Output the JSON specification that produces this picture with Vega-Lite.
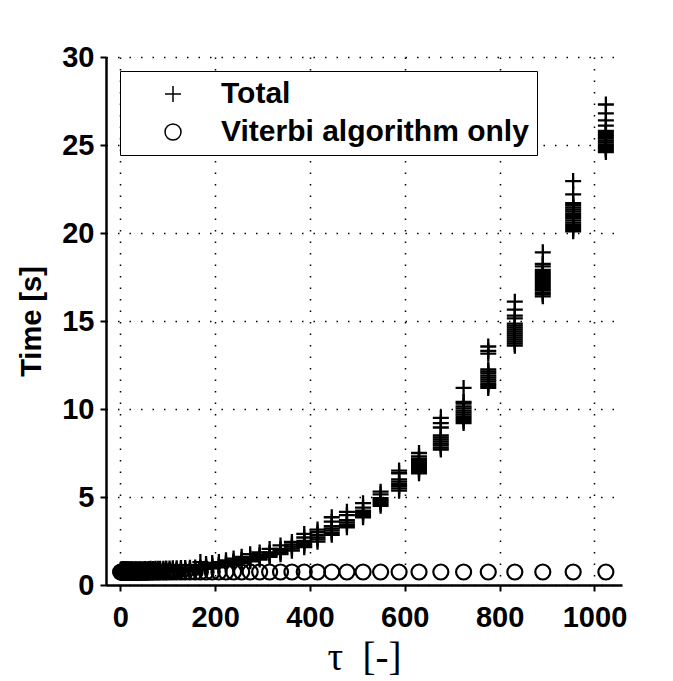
{
  "$schema": "https://vega.github.io/schema/vega-lite/v6.json",
  "width": 516,
  "height": 528,
  "autosize": {"type": "none"},
  "padding": {"left": 106, "top": 57, "right": 51, "bottom": 96},
  "background": "white",
  "config": {
    "font": "Liberation Sans",
    "view": {"stroke": null},
    "axis": {
      "domainColor": "black", "domainWidth": 2.5,
      "tickColor": "black", "tickWidth": 2, "tickSize": 6,
      "labelColor": "black", "labelFont": "Liberation Sans", "labelFontWeight": "bold", "labelFontSize": 29,
      "titleColor": "black",
      "grid": true, "gridColor": "black", "gridOpacity": 1, "gridDash": [1.5, 10], "gridWidth": 1.5
    }
  },
  "datasets": {
    "total": [
      {"tau":1,"time":0.68},{"tau":1,"time":0.74},{"tau":1,"time":0.8},{"tau":1,"time":0.86},
      {"tau":2,"time":0.69},{"tau":2,"time":0.75},{"tau":2,"time":0.81},{"tau":2,"time":0.88},
      {"tau":3,"time":0.68},{"tau":3,"time":0.74},{"tau":3,"time":0.8},{"tau":3,"time":0.87},
      {"tau":4,"time":0.69},{"tau":4,"time":0.76},{"tau":4,"time":0.82},{"tau":4,"time":0.88},
      {"tau":5,"time":0.68},{"tau":5,"time":0.75},{"tau":5,"time":0.81},{"tau":5,"time":0.87},
      {"tau":6,"time":0.68},{"tau":6,"time":0.74},{"tau":6,"time":0.81},{"tau":6,"time":0.89},
      {"tau":7,"time":0.69},{"tau":7,"time":0.76},{"tau":7,"time":0.82},{"tau":7,"time":0.88},
      {"tau":8,"time":0.68},{"tau":8,"time":0.75},{"tau":8,"time":0.81},{"tau":8,"time":0.87},
      {"tau":9,"time":0.68},{"tau":9,"time":0.74},{"tau":9,"time":0.8},{"tau":9,"time":0.88},
      {"tau":10,"time":0.69},{"tau":10,"time":0.76},{"tau":10,"time":0.82},{"tau":10,"time":0.89},
      {"tau":11,"time":0.68},{"tau":11,"time":0.75},{"tau":11,"time":0.81},{"tau":11,"time":0.88},
      {"tau":12,"time":0.68},{"tau":12,"time":0.74},{"tau":12,"time":0.81},{"tau":12,"time":0.87},
      {"tau":13,"time":0.69},{"tau":13,"time":0.76},{"tau":13,"time":0.82},{"tau":13,"time":0.88},
      {"tau":14,"time":0.68},{"tau":14,"time":0.75},{"tau":14,"time":0.81},{"tau":14,"time":0.89},
      {"tau":15,"time":0.68},{"tau":15,"time":0.74},{"tau":15,"time":0.8},{"tau":15,"time":0.87},
      {"tau":16,"time":0.69},{"tau":16,"time":0.76},{"tau":16,"time":0.82},{"tau":16,"time":0.88},
      {"tau":17,"time":0.68},{"tau":17,"time":0.75},{"tau":17,"time":0.81},{"tau":17,"time":0.88},
      {"tau":18,"time":0.68},{"tau":18,"time":0.74},{"tau":18,"time":0.81},{"tau":18,"time":0.89},
      {"tau":20,"time":0.69},{"tau":20,"time":0.76},{"tau":20,"time":0.82},{"tau":20,"time":0.88},
      {"tau":21,"time":0.68},{"tau":21,"time":0.75},{"tau":21,"time":0.81},{"tau":21,"time":0.87},
      {"tau":23,"time":0.68},{"tau":23,"time":0.74},{"tau":23,"time":0.8},{"tau":23,"time":0.88},
      {"tau":24,"time":0.69},{"tau":24,"time":0.76},{"tau":24,"time":0.82},{"tau":24,"time":0.89},
      {"tau":26,"time":0.68},{"tau":26,"time":0.75},{"tau":26,"time":0.81},{"tau":26,"time":0.88},
      {"tau":28,"time":0.68},{"tau":28,"time":0.74},{"tau":28,"time":0.81},{"tau":28,"time":0.87},
      {"tau":30,"time":0.69},{"tau":30,"time":0.76},{"tau":30,"time":0.82},{"tau":30,"time":0.89},
      {"tau":32,"time":0.68},{"tau":32,"time":0.75},{"tau":32,"time":0.81},{"tau":32,"time":0.88},
      {"tau":34,"time":0.68},{"tau":34,"time":0.75},{"tau":34,"time":0.82},{"tau":34,"time":0.89},
      {"tau":37,"time":0.69},{"tau":37,"time":0.76},{"tau":37,"time":0.82},{"tau":37,"time":0.88},
      {"tau":39,"time":0.68},{"tau":39,"time":0.75},{"tau":39,"time":0.82},{"tau":39,"time":0.89},
      {"tau":42,"time":0.69},{"tau":42,"time":0.76},{"tau":42,"time":0.83},{"tau":42,"time":0.9},
      {"tau":45,"time":0.69},{"tau":45,"time":0.76},{"tau":45,"time":0.82},{"tau":45,"time":0.89},
      {"tau":49,"time":0.7},{"tau":49,"time":0.77},{"tau":49,"time":0.83},{"tau":49,"time":0.9},
      {"tau":52,"time":0.7},{"tau":52,"time":0.77},{"tau":52,"time":0.84},{"tau":52,"time":0.91},
      {"tau":56,"time":0.7},{"tau":56,"time":0.77},{"tau":56,"time":0.84},{"tau":56,"time":0.9},
      {"tau":60,"time":0.71},{"tau":60,"time":0.78},{"tau":60,"time":0.84},{"tau":60,"time":0.91},
      {"tau":64,"time":0.71},{"tau":64,"time":0.78},{"tau":64,"time":0.85},{"tau":64,"time":0.92},
      {"tau":69,"time":0.71},{"tau":69,"time":0.78},{"tau":69,"time":0.85},{"tau":69,"time":0.91},
      {"tau":74,"time":0.72},{"tau":74,"time":0.79},{"tau":74,"time":0.85},{"tau":74,"time":0.92},
      {"tau":79,"time":0.72},{"tau":79,"time":0.79},{"tau":79,"time":0.86},{"tau":79,"time":0.93},
      {"tau":84,"time":0.72},{"tau":84,"time":0.79},{"tau":84,"time":0.86},{"tau":84,"time":0.92},
      {"tau":91,"time":0.73},{"tau":91,"time":0.8},{"tau":91,"time":0.86},{"tau":91,"time":0.93},
      {"tau":97,"time":0.73},{"tau":97,"time":0.8},{"tau":97,"time":0.87},{"tau":97,"time":0.94},
      {"tau":104,"time":0.74},{"tau":104,"time":0.81},{"tau":104,"time":0.87},{"tau":104,"time":0.94},
      {"tau":111,"time":0.74},{"tau":111,"time":0.81},{"tau":111,"time":0.88},{"tau":111,"time":0.95},
      {"tau":119,"time":0.75},{"tau":119,"time":0.82},{"tau":119,"time":0.88},{"tau":119,"time":0.95},
      {"tau":128,"time":0.76},{"tau":128,"time":0.83},{"tau":128,"time":0.89},{"tau":128,"time":0.96},
      {"tau":137,"time":0.77},{"tau":137,"time":0.84},{"tau":137,"time":0.9},{"tau":137,"time":0.97},
      {"tau":147,"time":0.79},{"tau":147,"time":0.85},{"tau":147,"time":0.91},{"tau":147,"time":0.98},
      {"tau":158,"time":0.81},{"tau":158,"time":0.87},{"tau":158,"time":0.93},{"tau":158,"time":0.99},
      {"tau":169,"time":0.88},{"tau":169,"time":0.92},{"tau":169,"time":0.96},{"tau":169,"time":1.0},{"tau":169,"time":1.3},
      {"tau":181,"time":0.92},{"tau":181,"time":0.96},{"tau":181,"time":1.01},{"tau":181,"time":1.05},{"tau":181,"time":1.2},
      {"tau":194,"time":0.95},{"tau":194,"time":1.0},{"tau":194,"time":1.05},{"tau":194,"time":1.1},{"tau":194,"time":1.25},
      {"tau":208,"time":1.0},{"tau":208,"time":1.05},{"tau":208,"time":1.1},{"tau":208,"time":1.15},{"tau":208,"time":1.3},
      {"tau":223,"time":1.08},{"tau":223,"time":1.14},{"tau":223,"time":1.19},{"tau":223,"time":1.25},{"tau":223,"time":1.4},
      {"tau":239,"time":1.15},{"tau":239,"time":1.22},{"tau":239,"time":1.28},{"tau":239,"time":1.35},{"tau":239,"time":1.5},
      {"tau":256,"time":1.25},{"tau":256,"time":1.32},{"tau":256,"time":1.38},{"tau":256,"time":1.45},{"tau":256,"time":1.6},
      {"tau":274,"time":1.35},{"tau":274,"time":1.42},{"tau":274,"time":1.48},{"tau":274,"time":1.55},{"tau":274,"time":1.75},
      {"tau":294,"time":1.45},{"tau":294,"time":1.53},{"tau":294,"time":1.62},{"tau":294,"time":1.7},{"tau":294,"time":1.85},
      {"tau":315,"time":1.6},{"tau":315,"time":1.68},{"tau":315,"time":1.77},{"tau":315,"time":1.85},{"tau":315,"time":2.05},
      {"tau":338,"time":1.75},{"tau":338,"time":1.85},{"tau":338,"time":1.95},{"tau":338,"time":2.05},{"tau":338,"time":2.25},
      {"tau":362,"time":1.95},{"tau":362,"time":2.07},{"tau":362,"time":2.18},{"tau":362,"time":2.3},{"tau":362,"time":2.45},
      {"tau":388,"time":2.15},{"tau":388,"time":2.27},{"tau":388,"time":2.38},{"tau":388,"time":2.5},{"tau":388,"time":2.7},{"tau":388,"time":2.9},
      {"tau":416,"time":2.46},{"tau":416,"time":2.59},{"tau":416,"time":2.71},{"tau":416,"time":2.84},{"tau":416,"time":3.0},{"tau":416,"time":3.15},
      {"tau":446,"time":2.85},{"tau":446,"time":2.97},{"tau":446,"time":3.1},{"tau":446,"time":3.22},{"tau":446,"time":3.35},{"tau":446,"time":3.6},{"tau":446,"time":3.85},
      {"tau":478,"time":3.28},{"tau":478,"time":3.42},{"tau":478,"time":3.55},{"tau":478,"time":3.69},{"tau":478,"time":3.97},{"tau":478,"time":4.16},
      {"tau":512,"time":3.85},{"tau":512,"time":3.97},{"tau":512,"time":4.1},{"tau":512,"time":4.22},{"tau":512,"time":4.4},{"tau":512,"time":4.65},
      {"tau":549,"time":4.5},{"tau":549,"time":4.61},{"tau":549,"time":4.72},{"tau":549,"time":4.82},{"tau":549,"time":4.93},{"tau":549,"time":5.15},{"tau":549,"time":5.3},
      {"tau":588,"time":5.36},{"tau":588,"time":5.49},{"tau":588,"time":5.62},{"tau":588,"time":5.74},{"tau":588,"time":5.87},{"tau":588,"time":6.0},{"tau":588,"time":6.35},{"tau":588,"time":6.5},
      {"tau":630,"time":6.35},{"tau":630,"time":6.47},{"tau":630,"time":6.58},{"tau":630,"time":6.7},{"tau":630,"time":6.82},{"tau":630,"time":6.93},{"tau":630,"time":7.05},{"tau":630,"time":7.15},{"tau":630,"time":7.3},{"tau":630,"time":7.5},
      {"tau":676,"time":7.7},{"tau":676,"time":7.81},{"tau":676,"time":7.93},{"tau":676,"time":8.04},{"tau":676,"time":8.16},{"tau":676,"time":8.27},{"tau":676,"time":8.39},{"tau":676,"time":8.5},{"tau":676,"time":8.95},{"tau":676,"time":9.2},{"tau":676,"time":9.5},
      {"tau":724,"time":9.2},{"tau":724,"time":9.32},{"tau":724,"time":9.44},{"tau":724,"time":9.56},{"tau":724,"time":9.68},{"tau":724,"time":9.79},{"tau":724,"time":9.91},{"tau":724,"time":10.03},{"tau":724,"time":10.15},{"tau":724,"time":10.3},{"tau":724,"time":10.4},{"tau":724,"time":11.2},
      {"tau":776,"time":11.2},{"tau":776,"time":11.32},{"tau":776,"time":11.43},{"tau":776,"time":11.55},{"tau":776,"time":11.67},{"tau":776,"time":11.78},{"tau":776,"time":11.9},{"tau":776,"time":12.02},{"tau":776,"time":12.13},{"tau":776,"time":12.25},{"tau":776,"time":13.15},{"tau":776,"time":13.3},{"tau":776,"time":13.55},
      {"tau":832,"time":13.6},{"tau":832,"time":13.71},{"tau":832,"time":13.83},{"tau":832,"time":13.94},{"tau":832,"time":14.05},{"tau":832,"time":14.17},{"tau":832,"time":14.28},{"tau":832,"time":14.4},{"tau":832,"time":14.51},{"tau":832,"time":14.62},{"tau":832,"time":14.74},{"tau":832,"time":14.85},{"tau":832,"time":15.15},{"tau":832,"time":15.3},{"tau":832,"time":15.65},{"tau":832,"time":16.1},
      {"tau":891,"time":16.4},{"tau":891,"time":16.52},{"tau":891,"time":16.63},{"tau":891,"time":16.75},{"tau":891,"time":16.86},{"tau":891,"time":16.98},{"tau":891,"time":17.09},{"tau":891,"time":17.21},{"tau":891,"time":17.32},{"tau":891,"time":17.44},{"tau":891,"time":17.55},{"tau":891,"time":17.67},{"tau":891,"time":17.78},{"tau":891,"time":17.9},{"tau":891,"time":18.1},{"tau":891,"time":18.25},{"tau":891,"time":18.9},
      {"tau":955,"time":20.1},{"tau":955,"time":20.22},{"tau":955,"time":20.35},{"tau":955,"time":20.47},{"tau":955,"time":20.59},{"tau":955,"time":20.72},{"tau":955,"time":20.84},{"tau":955,"time":20.96},{"tau":955,"time":21.08},{"tau":955,"time":21.21},{"tau":955,"time":21.33},{"tau":955,"time":21.45},{"tau":955,"time":21.58},{"tau":955,"time":21.7},{"tau":955,"time":22.2},{"tau":955,"time":22.95},
      {"tau":1024,"time":24.6},{"tau":1024,"time":24.71},{"tau":1024,"time":24.82},{"tau":1024,"time":24.93},{"tau":1024,"time":25.04},{"tau":1024,"time":25.15},{"tau":1024,"time":25.25},{"tau":1024,"time":25.36},{"tau":1024,"time":25.47},{"tau":1024,"time":25.58},{"tau":1024,"time":25.69},{"tau":1024,"time":25.8},{"tau":1024,"time":26.1},{"tau":1024,"time":26.4},{"tau":1024,"time":26.8},{"tau":1024,"time":27.3}
    ],
    "viterbi": [
      {"tau":1,"time":0.74},{"tau":2,"time":0.74},{"tau":3,"time":0.74},{"tau":4,"time":0.74},{"tau":5,"time":0.74},{"tau":6,"time":0.74},{"tau":7,"time":0.74},{"tau":8,"time":0.74},{"tau":9,"time":0.74},{"tau":10,"time":0.74},
      {"tau":11,"time":0.74},{"tau":12,"time":0.74},{"tau":13,"time":0.74},{"tau":14,"time":0.74},{"tau":15,"time":0.74},{"tau":16,"time":0.74},{"tau":17,"time":0.74},{"tau":18,"time":0.74},{"tau":20,"time":0.74},{"tau":21,"time":0.74},
      {"tau":23,"time":0.74},{"tau":24,"time":0.74},{"tau":26,"time":0.74},{"tau":28,"time":0.74},{"tau":30,"time":0.74},{"tau":32,"time":0.74},{"tau":34,"time":0.74},{"tau":37,"time":0.74},{"tau":39,"time":0.74},{"tau":42,"time":0.74},
      {"tau":45,"time":0.74},{"tau":49,"time":0.74},{"tau":52,"time":0.74},{"tau":56,"time":0.74},{"tau":60,"time":0.74},{"tau":64,"time":0.74},{"tau":69,"time":0.74},{"tau":74,"time":0.74},{"tau":79,"time":0.74},{"tau":84,"time":0.74},
      {"tau":91,"time":0.74},{"tau":97,"time":0.74},{"tau":104,"time":0.74},{"tau":111,"time":0.74},{"tau":119,"time":0.74},{"tau":128,"time":0.74},{"tau":137,"time":0.74},{"tau":147,"time":0.74},{"tau":158,"time":0.74},{"tau":169,"time":0.74},
      {"tau":181,"time":0.74},{"tau":194,"time":0.74},{"tau":208,"time":0.74},{"tau":223,"time":0.74},{"tau":239,"time":0.74},{"tau":256,"time":0.74},{"tau":274,"time":0.74},{"tau":294,"time":0.74},{"tau":315,"time":0.74},{"tau":338,"time":0.74},
      {"tau":362,"time":0.74},{"tau":388,"time":0.74},{"tau":416,"time":0.74},{"tau":446,"time":0.74},{"tau":478,"time":0.74},{"tau":512,"time":0.74},{"tau":549,"time":0.74},{"tau":588,"time":0.74},{"tau":630,"time":0.74},{"tau":676,"time":0.74},
      {"tau":724,"time":0.74},{"tau":776,"time":0.74},{"tau":832,"time":0.74},{"tau":891,"time":0.74},{"tau":955,"time":0.74},{"tau":1024,"time":0.74}
    ]
  },
  "encoding": {
    "x": {
      "field": "tau", "type": "quantitative",
      "scale": {"domain": [-30, 1058], "nice": false, "zero": false},
      "axis": {
        "values": [0, 200, 400, 600, 800, 1000],
        "format": "d",
        "title": "τ\u2002[-]",
        "titleFont": "Liberation Serif", "titleFontWeight": "normal", "titleFontSize": 39,
        "labelPadding": 12, "titlePadding": 6
      }
    },
    "y": {
      "field": "time", "type": "quantitative",
      "scale": {"domain": [0, 30], "nice": false},
      "axis": {
        "values": [0, 5, 10, 15, 20, 25, 30],
        "title": "Time [s]",
        "titleFont": "Liberation Sans", "titleFontWeight": "bold", "titleFontSize": 29,
        "labelPadding": 6, "titlePadding": 15
      }
    }
  },
  "layer": [
    {
      "data": {"name": "total"},
      "mark": {"type": "point", "filled": false, "stroke": "black", "strokeWidth": 2.3, "size": 256, "opacity": 1},
      "encoding": {
        "shape": {
          "datum": "Total", "type": "nominal",
          "scale": {"domain": ["Total", "Viterbi algorithm only"], "range": ["M-1,0H1M0,-1V1", "circle"]},
          "legend": {
            "title": null, "orient": "none", "legendX": 14, "legendY": 14,
            "labelFont": "Liberation Sans", "labelFontWeight": "bold", "labelFontSize": 30, "labelColor": "black", "labelLimit": 0,
            "symbolSize": 256, "symbolStrokeWidth": 1.5, "symbolStrokeColor": "black", "symbolFillColor": "transparent",
            "symbolOffset": 30, "labelOffset": 33, "rowPadding": 8, "padding": 8,
            "strokeColor": "black", "fillColor": "white", "cornerRadius": 0
          }
        }
      }
    },
    {
      "data": {"name": "viterbi"},
      "mark": {"type": "point", "filled": false, "stroke": "black", "strokeWidth": 2.2, "size": 225, "opacity": 1},
      "encoding": {
        "shape": {"datum": "Viterbi algorithm only", "type": "nominal"}
      }
    }
  ]
}
